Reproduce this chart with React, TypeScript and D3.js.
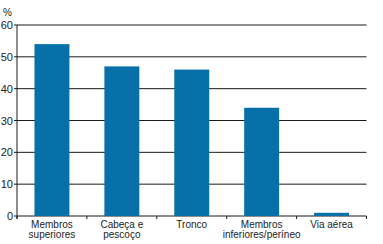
import React from "react";
import * as d3 from "d3";

const categories: string[][] = [
  ["Membros", "superiores"],
  ["Cabeça e", "pescoço"],
  ["Tronco"],
  ["Membros", "inferiores/períneo"],
  ["Via aérea"],
];
const values = [54, 47, 46, 34, 1];
const yTicks = [0, 10, 20, 30, 40, 50, 60];

export default function App() {
  const W = 383, H = 244;
  const left = 17, right = 366.5, top = 25, bottom = 216;
  const x = d3.scaleBand<number>().domain(d3.range(values.length)).range([left, right]).paddingInner(0.5).paddingOuter(0.25);
  const band = d3.scaleBand<number>().domain(d3.range(values.length)).range([left, right]);
  const y = d3.scaleLinear().domain([0, 60]).range([bottom, top]);
  const font = "Liberation Sans, Arial, sans-serif";
  return (
    <svg width={W} height={H} style={{ position: "absolute", left: 0, top: 0 }}>
      <rect width={W} height={H} fill="#fff" />
      {yTicks.map((t) => (
        <g key={t}>
          <line x1={left - 3} x2={right} y1={y(t)} y2={y(t)} stroke="#1a1a1a" strokeWidth={1} />
          <text x={13} y={y(t) + 4} textAnchor="end" fontSize={11} fontFamily={font} fill="#222">{t}</text>
        </g>
      ))}
      <text x={3} y={16} fontSize={10} fontFamily={font} fill="#222">%</text>
      {values.map((v, i) => (
        <rect key={i} x={x(i)} y={y(v)} width={x.bandwidth()} height={y(0) - y(v)} fill="#0870a8" />
      ))}
      <line x1={left} x2={left} y1={top} y2={bottom + 3} stroke="#1a1a1a" />
      {d3.range(values.length + 1).map((i) => {
        const xx = i < values.length ? (band(i) as number) : right;
        return <line key={i} x1={xx} x2={xx} y1={bottom} y2={bottom + 3} stroke="#1a1a1a" />;
      })}
      {categories.map((lines, i) => (
        <text key={i} textAnchor="middle" fontSize={10} fontFamily={font} fill="#222">
          {lines.map((l, j) => (
            <tspan key={j} x={(band(i) as number) + band.bandwidth() / 2} y={228 + j * 10}>{l}</tspan>
          ))}
        </text>
      ))}
    </svg>
  );
}
